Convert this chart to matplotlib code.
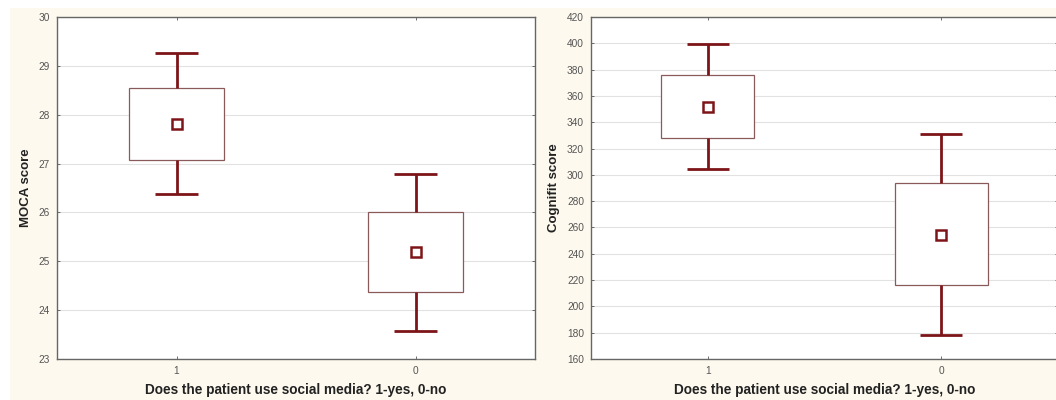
import matplotlib
matplotlib.use("Agg")
import matplotlib.pyplot as plt
from matplotlib.patches import Rectangle

# groups: does the patient use social media? 1-yes, 0-no
groups = ['1', '0']

# MOCA score: mean, box (mean +/- SE), whiskers (+/- 1.96 SE)
moca_mean = [27.81, 25.18]
moca_box_lo = [27.08, 24.37]
moca_box_hi = [28.55, 26.00]
moca_wh_lo = [26.37, 23.57]
moca_wh_hi = [29.27, 26.79]

# Cognifit score
cog_mean = [351.7, 254.3]
cog_box_lo = [327.9, 215.9]
cog_box_hi = [376.0, 294.1]
cog_wh_lo = [304.7, 178.2]
cog_wh_hi = [399.3, 331.0]

plt.rcParams['font.family'] = ['Liberation Sans', 'DejaVu Sans']

dark_red = '#7d1518'
box_edge = '#8a5a5a'
bg = '#fdf9ee'

fig = plt.figure(figsize=(10.56, 4.0), dpi=100, facecolor='white')
fig.patches.append(Rectangle((10 / 1056, 0), 1, 392 / 400, transform=fig.transFigure,
                             facecolor=bg, edgecolor='none', zorder=-10))


def box_whisker(ax, mean, box_lo, box_hi, wh_lo, wh_hi, ylim, yticks, ylabel):
    x = list(range(len(groups)))
    ax.set_facecolor('white')
    ax.bar(x, [h - l for h, l in zip(box_hi, box_lo)], bottom=box_lo, width=0.4,
           color='white', edgecolor=box_edge, linewidth=0.9, zorder=3)
    ax.vlines(x, box_hi, wh_hi, color=dark_red, linewidth=2, zorder=3)
    ax.vlines(x, wh_lo, box_lo, color=dark_red, linewidth=2, zorder=3)
    ax.hlines(wh_hi, [i - 0.09 for i in x], [i + 0.09 for i in x], color=dark_red, linewidth=2, zorder=3)
    ax.hlines(wh_lo, [i - 0.09 for i in x], [i + 0.09 for i in x], color=dark_red, linewidth=2, zorder=3)
    ax.plot(x, mean, 's', markersize=6.5, markerfacecolor='white',
            markeredgecolor=dark_red, markeredgewidth=1.8, zorder=4)
    ax.set_xlim(-0.5, len(groups) - 0.5)
    ax.set_ylim(*ylim)
    ax.set_xticks(x)
    ax.set_xticklabels(groups)
    ax.set_yticks(yticks)
    ax.grid(axis='y', color='#e2e2e2', linewidth=0.8, zorder=0)
    ax.tick_params(direction='in', length=2, width=0.6, colors='#555555', labelsize=7.3,
                   top=True, right=True, pad=5)
    for s in ax.spines.values():
        s.set_color('#666666')
        s.set_linewidth(1.0)
    ax.set_xlabel('Does the patient use social media? 1-yes, 0-no', fontsize=9.8,
                  fontweight='bold', color='#222222', labelpad=5)
    ax.set_ylabel(ylabel, fontsize=9.5, fontweight='bold', color='#222222', labelpad=5)


ax1 = fig.add_axes([57 / 1056, 41 / 400, 478 / 1056, 342 / 400])
box_whisker(ax1, moca_mean, moca_box_lo, moca_box_hi, moca_wh_lo, moca_wh_hi,
            (23, 30), range(23, 31), 'MOCA score')

ax2 = fig.add_axes([591 / 1056, 41 / 400, 467 / 1056, 342 / 400])
box_whisker(ax2, cog_mean, cog_box_lo, cog_box_hi, cog_wh_lo, cog_wh_hi,
            (160, 420), range(160, 421, 20), 'Cognifit score')

fig.savefig('out.png', dpi=100, facecolor=fig.get_facecolor())
